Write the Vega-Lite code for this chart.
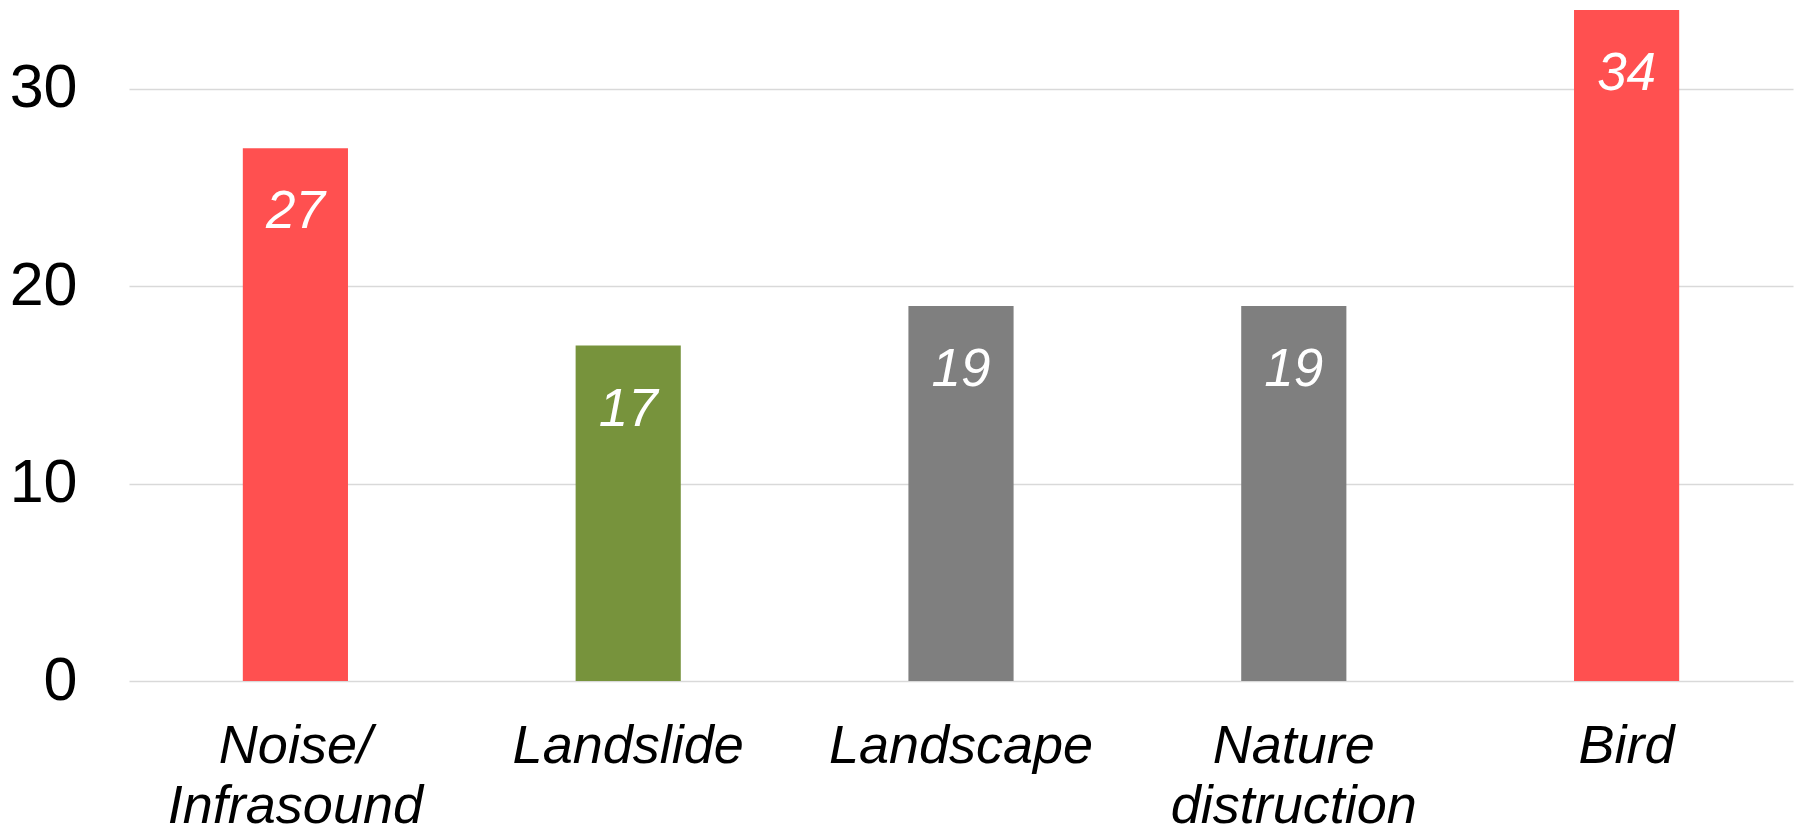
{
  "$schema": "https://vega.github.io/schema/vega-lite/v6.json",
  "width": 1664,
  "height": 671,
  "autosize": {"type": "none"},
  "padding": {"left": 129, "top": 10, "right": 3, "bottom": 145},
  "background": "white",
  "config": {
    "view": {"stroke": null},
    "font": "Liberation Sans"
  },
  "data": {
    "values": [
      {"category": "Noise/Infrasound", "value": 27, "group": "red"},
      {"category": "Landslide", "value": 17, "group": "green"},
      {"category": "Landscape", "value": 19, "group": "gray"},
      {"category": "Nature distruction", "value": 19, "group": "gray"},
      {"category": "Bird", "value": 34, "group": "red"}
    ]
  },
  "encoding": {
    "x": {
      "field": "category",
      "type": "nominal",
      "sort": null,
      "scale": {"paddingInner": 0.684, "paddingOuter": 0.342},
      "axis": {
        "title": null,
        "domain": false,
        "ticks": false,
        "tickSize": 0,
        "labelAngle": 0,
        "labelFont": "Liberation Sans",
        "labelFontSize": 54,
        "labelFontStyle": "italic",
        "labelColor": "black",
        "labelBaseline": "alphabetic",
        "labelPadding": 81,
        "labelLineHeight": 60,
        "labelLimit": 0,
        "labelExpr": "datum.label == 'Noise/Infrasound' ? ['Noise/', 'Infrasound'] : datum.label == 'Nature distruction' ? ['Nature', 'distruction'] : datum.label"
      }
    },
    "y": {
      "field": "value",
      "type": "quantitative",
      "scale": {"domain": [0, 34], "nice": false},
      "axis": {
        "title": null,
        "values": [0, 10, 20, 30],
        "domain": false,
        "ticks": false,
        "grid": true,
        "gridColor": "#d9d9d9",
        "gridWidth": 1.5,
        "labelFont": "Liberation Sans",
        "labelFontSize": 61,
        "labelColor": "black",
        "labelPadding": 52,
        "labelBaseline": "middle"
      }
    }
  },
  "layer": [
    {
      "mark": {"type": "bar"},
      "encoding": {
        "color": {
          "field": "group",
          "type": "nominal",
          "scale": {"domain": ["red", "green", "gray"], "range": ["#FF5050", "#77933C", "#7F7F7F"]},
          "legend": null
        }
      }
    },
    {
      "mark": {
        "type": "text",
        "baseline": "alphabetic",
        "align": "center",
        "dy": 80,
        "fontSize": 53,
        "fontStyle": "italic",
        "font": "Liberation Sans",
        "color": "white"
      },
      "encoding": {
        "text": {"field": "value", "type": "quantitative"}
      }
    }
  ]
}
